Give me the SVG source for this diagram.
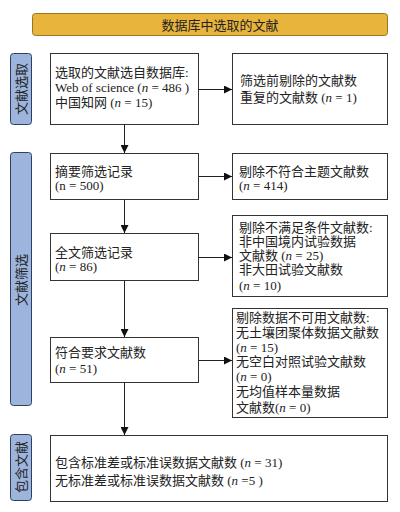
<svg xmlns="http://www.w3.org/2000/svg" width="400" height="512" viewBox="0 0 400 512">
<defs>
<marker id="ah" markerWidth="8" markerHeight="8" refX="8" refY="4" orient="auto" markerUnits="userSpaceOnUse">
<path d="M0,0 L8,4 L0,8 Z" fill="#111"/>
</marker>
<style>
.box{fill:#fff;stroke:#333;stroke-width:1}
.side{fill:#9db4dc;stroke:#2f3f5f;stroke-width:1}
.ban{fill:#e9b43c;stroke:#9a7421;stroke-width:1}
.t{font-family:"Liberation Serif","Noto Sans CJK SC",serif;font-size:13px;fill:#222}
.st{font-family:"Noto Sans CJK SC",sans-serif;font-size:13px;fill:#222}
.ln{stroke:#222;stroke-width:1;fill:none}
</style>
</defs>
<rect width="400" height="512" fill="#fff"/>
<g id="banner">
<rect class="ban" x="32.5" y="13.5" width="355" height="22" rx="3"/>
<text class="st" x="220" y="29.5" text-anchor="middle" font-size="14">数据库中选取的文献</text>
</g>
<g id="side1">
<rect class="side" x="10.5" y="53.5" width="21" height="71" rx="3"/>
<text class="st" transform="translate(26,89) rotate(-90)" text-anchor="middle">文献选取</text>
</g>
<g id="side2">
<rect class="side" x="10.5" y="152.5" width="21" height="253" rx="3"/>
<text class="st" transform="translate(26,280) rotate(-90)" text-anchor="middle">文献筛选</text>
</g>
<g id="side3">
<rect class="side" x="10.5" y="434.5" width="21" height="66" rx="3"/>
<text class="st" transform="translate(26,467) rotate(-90)" text-anchor="middle">包含文献</text>
</g>
<g id="n1">
<rect class="box" x="50.5" y="53.5" width="148" height="71"/>
<text class="t" x="55" y="77">选取的文献选自数据库:</text>
<text class="t" x="55" y="92">Web of science (<tspan font-style="italic">n</tspan> = 486 )</text>
<text class="t" x="55" y="107">中国知网 (<tspan font-style="italic">n</tspan> = 15)</text>
</g>
<g id="n1r">
<rect class="box" x="232.5" y="53.5" width="155" height="71"/>
<text class="t" x="240" y="85">筛选前剔除的文献数</text>
<text class="t" x="240" y="102">重复的文献数 (<tspan font-style="italic">n</tspan> = 1)</text>
</g>
<g id="n2">
<rect class="box" x="50.5" y="153.5" width="148" height="46"/>
<text class="t" x="55" y="176">摘要筛选记录</text>
<text class="t" x="55" y="190">(n = 500)</text>
</g>
<g id="n2r">
<rect class="box" x="232.5" y="153.5" width="155" height="46"/>
<text class="t" x="239" y="176">剔除不符合主题文献数</text>
<text class="t" x="239" y="190">(<tspan font-style="italic">n</tspan> = 414)</text>
</g>
<g id="n3">
<rect class="box" x="50.5" y="233.5" width="148" height="47"/>
<text class="t" x="55" y="257">全文筛选记录</text>
<text class="t" x="55" y="271">(<tspan font-style="italic">n</tspan> = 86)</text>
</g>
<g id="n3r">
<rect class="box" x="232.5" y="215.5" width="155" height="81"/>
<text class="t" x="239" y="232">剔除不满足条件文献数:</text>
<text class="t" x="239" y="246">非中国境内试验数据</text>
<text class="t" x="239" y="260">文献数 (<tspan font-style="italic">n</tspan> = 25)</text>
<text class="t" x="239" y="274">非大田试验文献数</text>
<text class="t" x="239" y="290">(<tspan font-style="italic">n</tspan> = 10)</text>
</g>
<g id="n4">
<rect class="box" x="50.5" y="337.5" width="148" height="45"/>
<text class="t" x="55" y="357">符合要求文献数</text>
<text class="t" x="55" y="373">(<tspan font-style="italic">n</tspan> = 51)</text>
</g>
<g id="n4r">
<rect class="box" x="232.5" y="308.5" width="155" height="109"/>
<text class="t" x="236" y="322">剔除数据不可用文献数:</text>
<text class="t" x="236" y="337">无土壤团聚体数据文献数</text>
<text class="t" x="236" y="352">(<tspan font-style="italic">n</tspan> = 15)</text>
<text class="t" x="236" y="366">无空白对照试验文献数</text>
<text class="t" x="236" y="381">(<tspan font-style="italic">n</tspan> = 0)</text>
<text class="t" x="236" y="396">无均值样本量数据</text>
<text class="t" x="236" y="412">文献数(<tspan font-style="italic">n</tspan> = 0)</text>
</g>
<g id="n5">
<rect class="box" x="50.5" y="435.5" width="337" height="66"/>
<text class="t" x="55" y="467">包含标准差或标准误数据文献数 (<tspan font-style="italic">n</tspan> = 31)</text>
<text class="t" x="55" y="485">无标准差或标准误数据文献数 (<tspan font-style="italic">n</tspan> =5 )</text>
</g>
<g id="connectors">
<line class="ln" x1="198.5" y1="89.5" x2="232" y2="89.5" marker-end="url(#ah)"/>
<line class="ln" x1="124.5" y1="124.5" x2="124.5" y2="153" marker-end="url(#ah)"/>
<line class="ln" x1="198.5" y1="176.5" x2="232" y2="176.5" marker-end="url(#ah)"/>
<line class="ln" x1="124.5" y1="199.5" x2="124.5" y2="233" marker-end="url(#ah)"/>
<line class="ln" x1="198.5" y1="257.5" x2="232" y2="257.5" marker-end="url(#ah)"/>
<line class="ln" x1="124.5" y1="280.5" x2="124.5" y2="337" marker-end="url(#ah)"/>
<line class="ln" x1="198.5" y1="360.5" x2="232" y2="360.5" marker-end="url(#ah)"/>
<line class="ln" x1="124.5" y1="382.5" x2="124.5" y2="435" marker-end="url(#ah)"/>
</g>
</svg>
